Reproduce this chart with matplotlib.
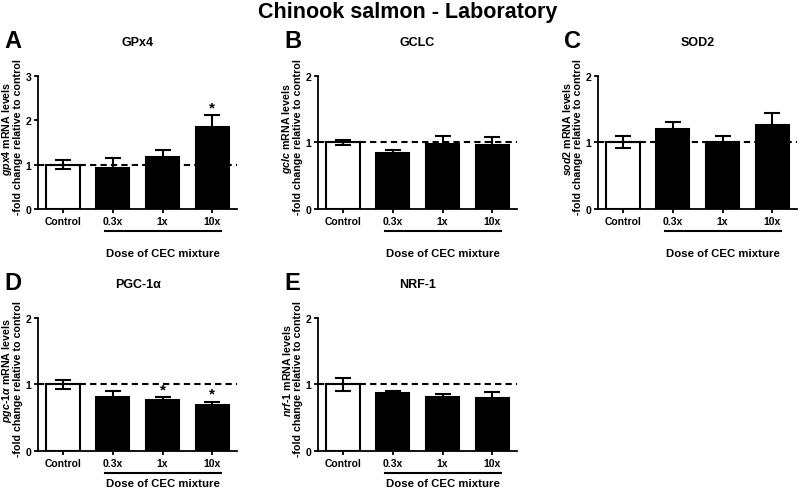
import matplotlib
matplotlib.use("Agg")
from matplotlib import pyplot as plt
import matplotlib.transforms as mtransforms

plt.rcParams['font.family'] = ['Liberation Sans', 'DejaVu Sans']
plt.rcParams['font.weight'] = 'bold'
plt.rcParams['mathtext.fontset'] = 'custom'
plt.rcParams['mathtext.it'] = 'Liberation Sans:italic:bold'
plt.rcParams['mathtext.rm'] = 'Liberation Sans:bold'

groups = ["Control", "0.3x", "1x", "10x"]

gpx4_mean = [1.00, 0.93, 1.18, 1.86]
gpx4_err = [0.10, 0.22, 0.15, 0.25]
gclc_mean = [1.00, 0.84, 0.98, 0.955]
gclc_err = [0.04, 0.05, 0.12, 0.13]
sod2_mean = [1.00, 1.21, 1.005, 1.27]
sod2_err = [0.09, 0.10, 0.09, 0.18]
pgc_mean = [1.00, 0.81, 0.76, 0.69]
pgc_err = [0.07, 0.09, 0.045, 0.05]
nrf_mean = [1.00, 0.87, 0.81, 0.80]
nrf_err = [0.10, 0.03, 0.05, 0.09]

panels = [
    ("A", "GPx4", r"$\mathit{gpx4}$ mRNA levels", gpx4_mean, gpx4_err, [3], 3),
    ("B", "GCLC", r"$\mathit{gclc}$ mRNA levels", gclc_mean, gclc_err, [], 2),
    ("C", "SOD2", r"$\mathit{sod2}$ mRNA levels", sod2_mean, sod2_err, [], 2),
    ("D", "PGC-1α", r"$\mathit{pgc}$-$\mathit{1\alpha}$ mRNA levels", pgc_mean, pgc_err, [2, 3], 2),
    ("E", "NRF-1", r"$\mathit{nrf}$-$\mathit{1}$ mRNA levels", nrf_mean, nrf_err, [], 2),
]

# axes rectangles (left, bottom) in figure fraction
positions = [(0.0475, 0.5706), (0.3975, 0.5706), (0.7475, 0.5706),
             (0.0475, 0.0757), (0.3975, 0.0757)]
dose_y = [-0.33, -0.33, -0.33, -0.24, -0.24]
w, h = 0.249, 0.272

fig = plt.figure(figsize=(8, 4.89), dpi=100)
fig.text(0.51, 0.975, "Chinook salmon - Laboratory", ha='center', va='center',
         fontsize=15.5, fontweight='bold')

for (letter, title, ylab, mean, err, stars, ymax), (l, b), dy in zip(panels, positions, dose_y):
    ax = fig.add_axes([l, b, w, h])
    x = range(len(groups))
    colors = ['white', 'black', 'black', 'black']
    ax.bar(x, mean, width=0.67, color=colors, edgecolor='black', linewidth=1.5, zorder=2)
    ax.errorbar(x, mean, yerr=err, fmt='none', ecolor='black', elinewidth=1.5,
                capsize=6, capthick=1.5, zorder=3)
    ax.axhline(1, color='black', linestyle=(0, (3, 2)), linewidth=1.5, zorder=4, clip_on=False)
    for s in stars:
        ax.annotate("*", (s, mean[s] + err[s]), xytext=(0, 1), textcoords='offset points',
                    ha='center', va='bottom', fontsize=11, fontweight='bold')
    ax.set_xlim(-0.5, 3.5)
    ax.set_ylim(0, ymax)
    ax.set_yticks(range(ymax + 1))
    ax.set_xticks(list(x))
    ax.set_xticklabels(groups)
    ax.spines['top'].set_visible(False)
    ax.spines['right'].set_visible(False)
    for sp in ('left', 'bottom'):
        ax.spines[sp].set_linewidth(1.3)
    ax.tick_params(axis='both', labelsize=7.5, width=1.3, length=3, pad=2)

    # two-line y label
    ax.text(-0.156, 0.61, ylab, transform=ax.transAxes, rotation=90,
            rotation_mode='anchor', ha='center', va='center', fontsize=7.7)
    ax.text(-0.10, 0.55, "-fold change relative to control", transform=ax.transAxes,
            rotation=90, rotation_mode='anchor', ha='center', va='center',
            fontsize=7.7, fontweight='bold')

    ax.set_title(title, fontsize=9, fontweight='bold', pad=22)

    trans = mtransforms.blended_transform_factory(ax.transData, ax.transAxes)
    ax.plot([0.84, 3.18], [-0.165, -0.165], color='black', linewidth=1.5,
            transform=trans, clip_on=False)
    ax.text(2, dy, "Dose of CEC mixture", transform=trans, ha='center', va='center',
            fontsize=8.2, fontweight='bold')

    fig.text(l - 0.0425, b + h + 0.072, letter, fontsize=17, fontweight='bold',
             ha='left', va='center')

fig.savefig("out.png", dpi=100)
